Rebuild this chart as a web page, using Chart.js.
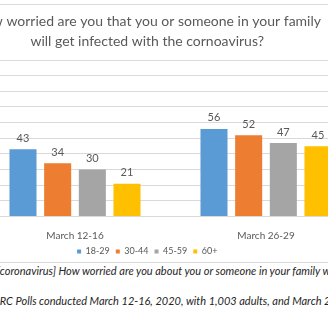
<!DOCTYPE html>
<html>
<head>
<meta charset="utf-8">
<script src="https://cdn.jsdelivr.net/npm/chart.js@4.4.1/dist/chart.umd.min.js"></script>
<style>
  html, body { margin: 0; padding: 0; background: #ffffff; }
  #page { position: relative; width: 328px; height: 328px; overflow: hidden; background: #ffffff; }
  #frame { position: absolute; left: -68px; top: 4px; width: 438px; height: 257px; border: 1px solid #d9d9d9; background: #ffffff; overflow: hidden; }
  #frame canvas { display: block; }
  .note { position: absolute; left: 0; white-space: nowrap; font-family: Lato, "Liberation Sans", sans-serif; font-style: italic; font-size: 11px; color: #262626; }
  #note1 { top: 264px; }
  #note2 { top: 294px; }
</style>
</head>
<body>
<div id="page">
  <div id="frame"><canvas id="chart" width="438" height="261"></canvas></div>
  <div class="note" id="note1"><span class="lead">[</span>coronavirus] How worried are you about you or someone in your family will get infected?</div>
  <div class="note" id="note2"><span class="lead">AP-NO</span>RC Polls conducted March 12-16, 2020, with 1,003 adults, and March 26-29, 2020.</div>
</div>
<script>
// Survey waves and age groups
const categories = ['March 12-16', 'March 26-29'];
const ageGroups = ['18-29', '30-44', '45-59', '60+'];

// Percent worried, per age group, for each wave
const age18to29 = [43, 56];
const age30to44 = [34, 52];
const age45to59 = [30, 47];
const age60plus = [21, 45];

const seriesColors = ['#5b9bd5', '#ed7d31', '#a5a5a5', '#ffc000'];
const titleLines = [
  'How worried are you that you or someone in your family',
  'will get infected with the cornoavirus?'
];

// Value axis range
const yMin = 0;
const yMax = 100;
const yStep = 10;

const FONT = 'Lato, "Liberation Sans", sans-serif';
const TEXT = '#595959';

// Shift the footnote lines so their leading fragments sit left of the page edge
document.querySelectorAll('.note').forEach(function (el) {
  const lead = el.querySelector('.lead');
  el.style.left = (-lead.offsetWidth) + 'px';
});

const seriesValues = [age18to29, age30to44, age45to59, age60plus];

// Writes each bar's value just above it
const barValueLabels = {
  id: 'barValueLabels',
  afterDatasetsDraw(chart) {
    const ctx = chart.ctx;
    ctx.save();
    ctx.font = '11px ' + FONT;
    ctx.fillStyle = TEXT;
    ctx.textAlign = 'center';
    ctx.textBaseline = 'middle';
    chart.data.datasets.forEach(function (ds, i) {
      chart.getDatasetMeta(i).data.forEach(function (bar, j) {
        ctx.fillText(String(ds.data[j]), bar.x, bar.y - 11);
      });
    });
    ctx.restore();
  }
};

new Chart(document.getElementById('chart'), {
  type: 'bar',
  data: {
    labels: categories,
    datasets: ageGroups.map(function (name, i) {
      return {
        label: name,
        data: seriesValues[i],
        backgroundColor: seriesColors[i],
        borderWidth: 0,
        categoryPercentage: 0.726,
        barPercentage: 0.78
      };
    })
  },
  options: {
    responsive: false,
    animation: false,
    devicePixelRatio: 1,
    layout: { padding: { left: 0, right: 9.5, top: 0, bottom: 0 } },
    plugins: {
      title: {
        display: true,
        text: titleLines,
        color: TEXT,
        font: { family: FONT, size: 14, weight: 'normal', lineHeight: 1.45 },
        padding: { top: 6, bottom: 8.4 }
      },
      legend: {
        position: 'bottom',
        labels: {
          color: TEXT,
          font: { family: FONT, size: 9 },
          boxWidth: 4,
          boxHeight: 4,
          padding: 6
        }
      },
      tooltip: { enabled: false }
    },
    scales: {
      x: {
        grid: { display: false },
        border: { display: true, color: '#d9d9d9' },
        ticks: { color: TEXT, font: { family: FONT, size: 10 }, padding: 5 },
        afterFit(scale) { scale.height = 24.4; }
      },
      y: {
        min: yMin,
        max: yMax,
        ticks: { display: false, stepSize: yStep },
        grid: { color: '#d9d9d9', drawTicks: false },
        border: { display: false },
        afterFit(scale) { scale.width = 46.5; }
      }
    }
  },
  plugins: [barValueLabels]
});
</script>
</body>
</html>
